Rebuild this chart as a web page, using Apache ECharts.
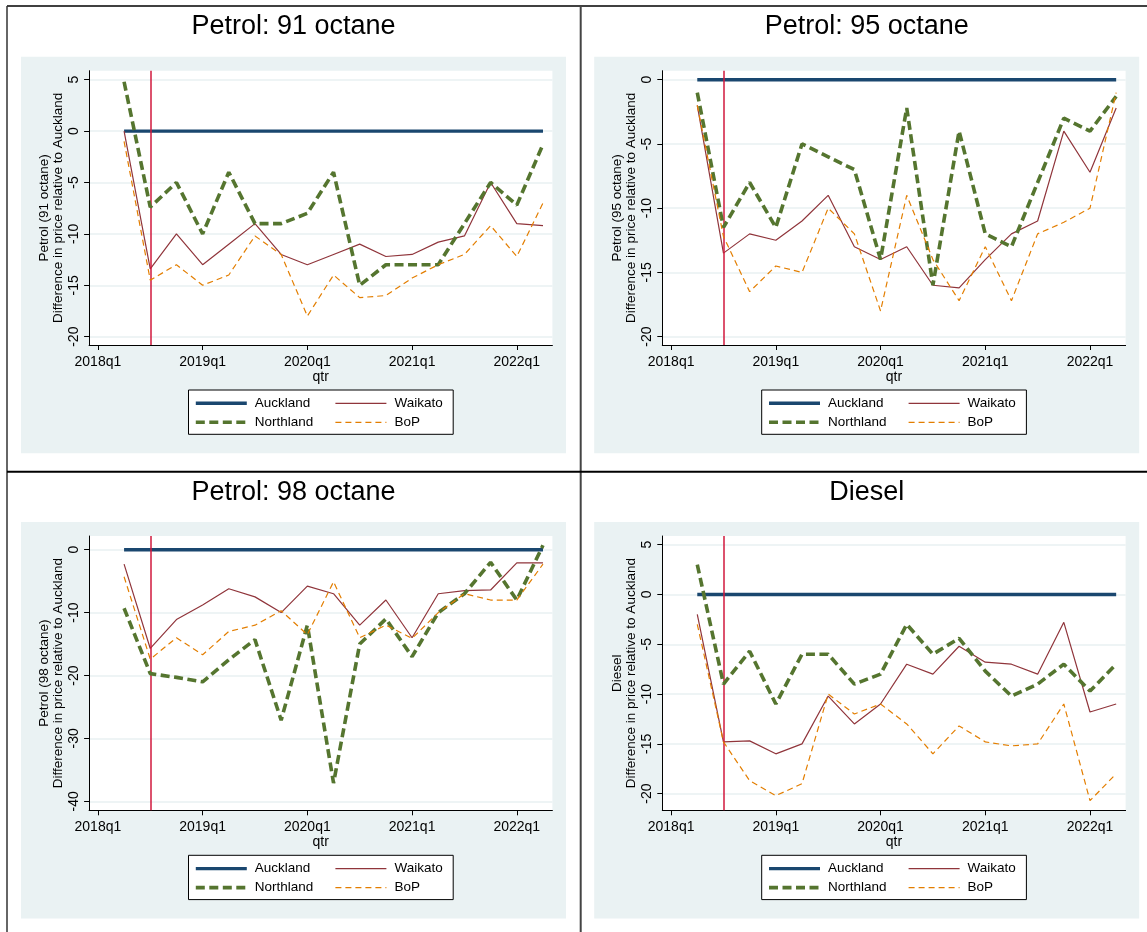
<!DOCTYPE html>
<html><head><meta charset="utf-8">
<script src="https://cdn.jsdelivr.net/npm/echarts@6/dist/echarts.min.js"></script>
<style>html,body{margin:0;padding:0;background:#fff}#c{width:1147px;height:932px}</style>
</head><body><div id="c"></div>
<script>
// ---------- data ----------
const quarters = ['2018q2','2018q3','2018q4','2019q1','2019q2','2019q3','2019q4','2020q1','2020q2','2020q3','2020q4','2021q1','2021q2','2021q3','2021q4','2022q1','2022q2'];
const xTickLabels = ['2018q1','2019q1','2020q1','2021q1','2022q1'];
const treatmentQuarter = '2018q3';
const regions = ['Auckland','Waikato','Northland','BoP'];
const panelTitles = ['Petrol: 91 octane','Petrol: 95 octane','Petrol: 98 octane','Diesel'];
const yAxisTitles = ['Petrol (91 octane)','Petrol (95 octane)','Petrol (98 octane)','Diesel'];
const yAxisSubtitle = 'Difference in price relative to Auckland';
const xAxisTitle = 'qtr';

const yTicks91 = [-20,-15,-10,-5,0,5];
const yTicks95 = [-20,-15,-10,-5,0];
const yTicks98 = [-40,-30,-20,-10,0];
const yTicksDiesel = [-20,-15,-10,-5,0,5];

const p91_auckland  = [0,0,0,0,0,0,0,0,0,0,0,0,0,0,0,0,0];
const p91_waikato   = [0,-13.4,-10,-13,-11,-9,-12,-13,-12,-11,-12.2,-12,-10.8,-10.2,-5,-9,-9.2];
const p91_northland = [4.8,-7.4,-5,-10,-4,-9,-9,-8,-4,-15,-13,-13,-13,-9,-5,-7.2,-1.3];
const p91_bop       = [-1,-14.5,-13,-15,-14,-10.2,-12,-18,-14,-16.2,-16,-14.3,-13,-12,-9.2,-12.2,-7];

const p95_auckland  = [0,0,0,0,0,0,0,0,0,0,0,0,0,0,0,0,0];
const p95_waikato   = [-2,-13.5,-12,-12.5,-11,-9,-13,-14,-13,-16,-16.2,-14,-12,-11,-4,-7.2,-2.2];
const p95_northland = [-1,-11.5,-8,-11.5,-5,-6,-7,-14,-2.2,-16,-4,-12,-13,-8,-3,-4,-1.3];
const p95_bop       = [-2,-12.2,-16.5,-14.5,-15,-10,-12,-18,-9,-14,-17.2,-13,-17.2,-12,-11.1,-10,-1];

const p98_auckland  = [0,0,0,0,0,0,0,0,0,0,0,0,0,0,0,0,0];
const p98_waikato   = [-2.3,-15.7,-11.1,-8.8,-6.2,-7.5,-10,-5.8,-7,-12,-8,-14,-7,-6.5,-6.4,-2.1,-2.1];
const p98_northland = [-9.3,-19.7,-20.3,-21,-17.5,-14.3,-27.1,-12,-37.1,-15,-11,-17,-10,-7,-2,-8,0.7];
const p98_bop       = [-4.3,-17.4,-14,-16.7,-13,-12,-9.7,-13.5,-5.1,-14,-12,-14.1,-10,-7,-8,-8,-2.3];

const diesel_auckland  = [0,0,0,0,0,0,0,0,0,0,0,0,0,0,0,0,0];
const diesel_waikato   = [-2,-14.8,-14.7,-16,-15,-10.2,-13,-11,-7,-8,-5.2,-6.8,-7,-8,-2.8,-11.8,-11];
const diesel_northland = [3,-9,-5.7,-11,-6,-6,-9,-8,-3,-6,-4.4,-7.7,-10.2,-9,-7,-9.7,-7];
const diesel_bop       = [-3,-14.8,-18.7,-20.2,-19,-10,-12,-11,-13,-16,-13.2,-14.8,-15.2,-15,-11,-20.7,-18];

// ---------- build ----------
function qIndex(s){ return (parseInt(s.slice(0,4),10)-2018)*4 + (parseInt(s.slice(5),10)-1); }
const xTickIdx = xTickLabels.map(qIndex);

const panelData = [
  [p91_auckland, p91_waikato, p91_northland, p91_bop],
  [p95_auckland, p95_waikato, p95_northland, p95_bop],
  [p98_auckland, p98_waikato, p98_northland, p98_bop],
  [diesel_auckland, diesel_waikato, diesel_northland, diesel_bop]
];
const panelTicks = [yTicks91, yTicks95, yTicks98, yTicksDiesel];
const yRanges = [[-20.81,5.875],[-20.65,0.70],[-41.43,2.18],[-21.67,5.87]];

const FONT = '"Liberation Sans", Arial, sans-serif';
const styles = {
  Auckland:  {color:'#1a476f', width:3.4, type:'solid'},
  Waikato:   {color:'#90353b', width:1.2, type:'solid'},
  Northland: {color:'#55752f', width:3.6, type:[9,4.5]},
  BoP:       {color:'#e37e00', width:1.2, type:[6,4]}
};
const VLINE = '#d0183c';

const offX = [0, 573.2, 0, 573.2];
const offY = [0, 0, 465.3, 465.3];

const grids = [], xAxes = [], yAxes = [], series = [], legends = [], graphics = [];

for (let p = 0; p < 4; p++) {
  const dx = offX[p], dy = offY[p];
  graphics.push({type:'rect', z:-5, silent:true, shape:{x:21+dx, y:56.7+dy, width:545, height:396.6}, style:{fill:'#eaf2f3'}});
  graphics.push({type:'text', z:5, silent:true, x:293.5+dx, y:27+dy,
    style:{text:panelTitles[p], align:'center', verticalAlign:'middle', font:'27px ' + FONT, fill:'#000'}});
  graphics.push({type:'rect', z:1, silent:true, shape:{x:188.5+dx, y:390+dy, width:264.7, height:44.3}, style:{fill:'#fff', stroke:'#000', lineWidth:1}});

  grids.push({left:89.1+dx, top:70.7+dy, width:463.3, height:274.3, show:true, backgroundColor:'#fff', borderWidth:0, containLabel:false});

  xAxes.push({
    gridIndex:p, type:'value', min:-0.336, max:17.36,
    name:xAxisTitle, nameLocation:'middle', nameGap:25,
    nameTextStyle:{fontSize:14, color:'#000', fontFamily:FONT},
    axisLine:{show:true, onZero:false, lineStyle:{color:'#000', width:1}},
    axisTick:{show:true, customValues:xTickIdx, length:5, lineStyle:{color:'#000', width:1}},
    axisLabel:{show:true, customValues:xTickIdx, margin:10, fontSize:14, color:'#000', fontFamily:FONT,
      formatter:(v)=>{ const i = xTickIdx.indexOf(Math.round(v)); return i >= 0 ? xTickLabels[i] : ''; }},
    splitLine:{show:false}
  });

  yAxes.push({
    gridIndex:p, type:'value', min:yRanges[p][0], max:yRanges[p][1],
    name:yAxisTitles[p] + '\n' + yAxisSubtitle, nameLocation:'middle', nameGap:24, nameRotate:90,
    nameTextStyle:{fontSize:13.5, lineHeight:14, color:'#000', fontFamily:FONT},
    axisLine:{show:true, onZero:false, lineStyle:{color:'#000', width:1}},
    axisTick:{show:true, customValues:panelTicks[p], length:5, lineStyle:{color:'#000', width:1}},
    axisLabel:{show:true, customValues:panelTicks[p], rotate:90, margin:8, fontSize:14, color:'#000', fontFamily:FONT},
    splitLine:{show:true, lineStyle:{color:'#e8f0f2', width:1.5}}
  });

  // reference line (treatment quarter)
  series.push({
    name:'treatment', type:'line', xAxisIndex:p, yAxisIndex:p, symbol:'none', data:[],
    silent:true, z:2, color:VLINE, itemStyle:{color:VLINE}, lineStyle:{color:VLINE},
    markLine:{symbol:'none', silent:true, label:{show:false}, animation:false,
      itemStyle:{color:VLINE},
      lineStyle:{color:VLINE, width:1.5, type:'solid', opacity:1},
      emphasis:{disabled:true},
      data:[{xAxis: qIndex(treatmentQuarter), lineStyle:{color:VLINE}}]}
  });

  regions.forEach((r, k) => {
    const vals = panelData[p][k];
    series.push({
      name:r, type:'line', xAxisIndex:p, yAxisIndex:p, symbol:'none', showSymbol:false,
      data: quarters.map((q, i) => [qIndex(q), vals[i]]),
      lineStyle:{color:styles[r].color, width:styles[r].width, type:styles[r].type, cap:'butt'},
      itemStyle:{color:styles[r].color},
      emphasis:{disabled:true}, silent:true, z:3 + k
    });
  });

  const legCommon = {orient:'vertical', itemWidth:51, itemHeight:14, itemGap:5, padding:0, selectedMode:false,
    textStyle:{fontSize:13.5, color:'#000', fontFamily:FONT, padding:[0,0,0,3]},
    itemStyle:{color:'rgba(0,0,0,0)', borderColor:'rgba(0,0,0,0)', borderWidth:0, opacity:0},
    lineStyle:{width:'inherit', type:'inherit'}, z:4};
  legends.push(Object.assign({}, legCommon, {left:194+dx, top:396.3+dy, data:['Auckland','Northland']}));
  legends.push(Object.assign({}, legCommon, {left:334.8+dx, top:396.3+dy, data:['Waikato','BoP']}));
}

graphics.push({type:'line', z:10, silent:true, shape:{x1:7, y1:6, x2:1147, y2:6}, style:{stroke:'#000', lineWidth:1.5}});
graphics.push({type:'line', z:10, silent:true, shape:{x1:7, y1:6, x2:7, y2:932}, style:{stroke:'#333', lineWidth:1.5}});
graphics.push({type:'line', z:10, silent:true, shape:{x1:580.7, y1:6, x2:580.7, y2:932}, style:{stroke:'#444', lineWidth:2}});
graphics.push({type:'line', z:10, silent:true, shape:{x1:7, y1:471.7, x2:1147, y2:471.7}, style:{stroke:'#000', lineWidth:2}});

const chart = echarts.init(document.getElementById('c'), null, {renderer:'canvas'});
chart.setOption({
  animation:false,
  backgroundColor:'#fff',
  textStyle:{fontFamily:FONT},
  grid:grids, xAxis:xAxes, yAxis:yAxes, series:series, legend:legends,
  graphic:{elements:graphics},
  tooltip:{show:false}
});
</script>
</body></html>
